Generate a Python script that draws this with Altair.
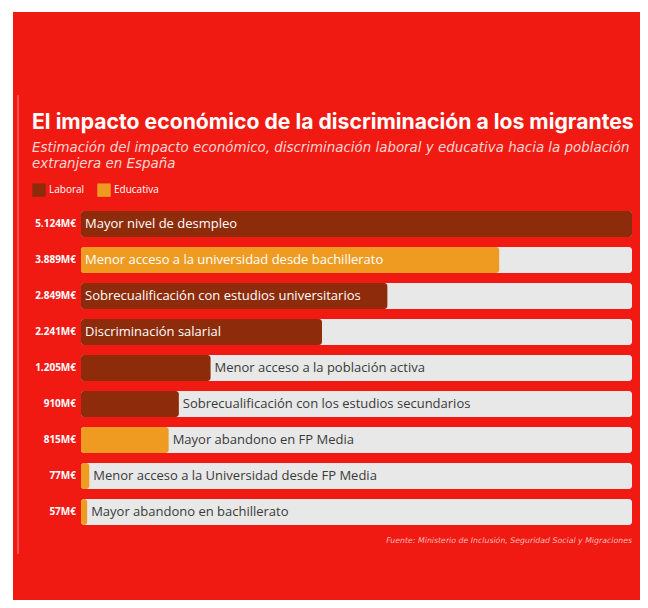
import altair as alt
import pandas as pd

# ---- data ----
categories = [
    "Mayor nivel de desmpleo",
    "Menor acceso a la universidad desde bachillerato",
    "Sobrecualificación con estudios universitarios",
    "Discriminación salarial",
    "Menor acceso a la población activa",
    "Sobrecualificación con los estudios secundarios",
    "Mayor abandono en FP Media",
    "Menor acceso a la Universidad desde FP Media",
    "Mayor abandono en bachillerato",
]
values = [5124, 3889, 2849, 2241, 1205, 910, 815, 77, 57]
types = ["Laboral", "Educativa", "Laboral", "Laboral", "Laboral",
         "Laboral", "Educativa", "Educativa", "Educativa"]
type_order = ["Laboral", "Educativa"]
type_colors = ["#8e2b0a", "#ef9b22"]
max_value = 5124

title_text = "El impacto económico de la discriminación a los migrantes"
subtitle_lines = [
    "Estimación del impacto económico, discriminación laboral y educativa hacia la población",
    "extranjera en España",
]
source_text = "Fuente: Ministerio de Inclusión, Seguridad Social y Migraciones"

df = pd.DataFrame({"categoria": categories, "valor": values, "tipo": types})
one = pd.DataFrame({"k": [0]})

RED = "#f11a13"
FONT = "Open Sans"
WIDE = "DejaVu Sans"

W, H = 551, 324
x_scale = alt.Scale(domain=[0, max_value], nice=False, zero=True)
y_enc = alt.Y("categoria:N", sort=categories, axis=None,
              scale=alt.Scale(paddingInner=0.28, paddingOuter=0.14))

base = alt.Chart(df)

bg = alt.Chart(one).mark_rect(color=RED).encode(
    x=alt.value(-68), x2=alt.value(600), y=alt.value(-194), y2=alt.value(420)
)
vline = alt.Chart(one).mark_rule(color="#f58a84", strokeWidth=1).encode(
    x=alt.value(-63), y=alt.value(-111), y2=alt.value(348)
)

track = base.transform_calculate(total=str(max_value)).mark_bar(
    color="#e8e8e8", cornerRadius=3
).encode(
    y=y_enc,
    x=alt.X("total:Q", scale=x_scale, axis=None, stack=None),
)

bars = base.mark_bar(cornerRadius=3).encode(
    y=y_enc,
    x=alt.X("valor:Q", scale=x_scale, axis=None, stack=None),
    color=alt.Color(
        "tipo:N",
        scale=alt.Scale(domain=type_order, range=type_colors),
        legend=alt.Legend(
            orient="none", legendX=-49, legendY=-23, direction="horizontal",
            title=None, symbolType="square", symbolSize=180,
            symbolStrokeWidth=0, symbolOpacity=1, labelColor="white",
            labelFontSize=10, labelFont=FONT, labelOffset=3,
            columnPadding=12, padding=0,
        ),
    ),
)

value_labels = base.transform_calculate(
    lbl="replace(format(datum.valor, ','), ',', '.') + 'M€'"
).mark_text(
    align="right", baseline="middle", font=FONT, fontWeight="bold",
    fontSize=10, color="white"
).encode(y=y_enc, x=alt.value(-5), text="lbl:N")

inside_labels = base.transform_filter("datum.valor >= 2000").mark_text(
    align="left", baseline="middle", dx=4, font=FONT, fontSize=13, color="white"
).encode(y=y_enc, x=alt.value(0), text="categoria:N")

outside_labels = base.transform_filter("datum.valor < 2000").mark_text(
    align="left", baseline="middle", dx=4, font=FONT, fontSize=13, color="#3a3a3a"
).encode(
    y=y_enc,
    x=alt.X("valor:Q", scale=x_scale, axis=None, stack=None),
    text="categoria:N",
)

title = alt.Chart(one).mark_text(
    text=title_text, align="left", baseline="alphabetic", font="Inter",
    fontWeight="bold", fontSize=21.2, color="white"
).encode(x=alt.value(-49), y=alt.value(-77))

sub1 = alt.Chart(one).mark_text(
    text=subtitle_lines[0], align="left", baseline="alphabetic", font=WIDE,
    fontStyle="italic", fontSize=13.4, color="#fcd6d1"
).encode(x=alt.value(-49), y=alt.value(-54))

sub2 = alt.Chart(one).mark_text(
    text=subtitle_lines[1], align="left", baseline="alphabetic", font=WIDE,
    fontStyle="italic", fontSize=13.4, color="#fcd6d1"
).encode(x=alt.value(-49), y=alt.value(-38))

source = alt.Chart(one).mark_text(
    text=source_text, align="right", baseline="alphabetic", font=WIDE,
    fontStyle="italic", fontSize=7.8, color="#f9b9b2"
).encode(x=alt.value(551), y=alt.value(337))

chart = alt.layer(
    bg, vline, track, bars, value_labels, inside_labels, outside_labels,
    title, sub1, sub2, source
).properties(
    width=W, height=H,
    padding={"left": 73, "top": 198, "right": 8, "bottom": 70},
    autosize=alt.AutoSizeParams(type="none"),
).configure_view(stroke=None).configure(background="white")

chart.save("out.html", embed_options={"renderer": "svg", "actions": False})
